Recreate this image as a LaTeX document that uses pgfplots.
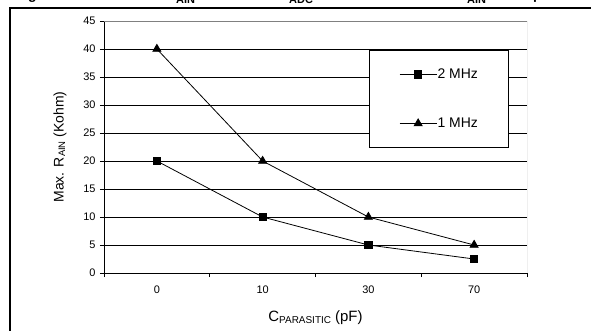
\documentclass[border=0pt]{standalone}
\usepackage{fontspec}
\setmainfont{Liberation Sans}
\usepackage{pgfplots}
\pgfplotsset{compat=1.18}
\begin{document}
\begin{tikzpicture}
\useasboundingbox (0bp,0bp) rectangle (591bp,-331bp);
\begin{scope}
\clip (0bp,0bp) rectangle (591bp,-331bp);
% cut-off caption remnants at the very top
\node[anchor=base west, inner sep=0, font=\bfseries\fontsize{14}{16}\selectfont] at (28bp,1bp) {g};
\node[anchor=base west, inner sep=0, font=\bfseries\fontsize{11}{13}\selectfont] at (176bp,-3.5bp) {AIN};
\node[anchor=base west, inner sep=0, font=\bfseries\fontsize{11}{13}\selectfont] at (289bp,-3.5bp) {ADC};
\node[anchor=base west, inner sep=0, font=\bfseries\fontsize{11}{13}\selectfont] at (467bp,-3.5bp) {AIN};
\node[anchor=base west, inner sep=0, font=\bfseries\fontsize{14}{16}\selectfont] at (533bp,1bp) {p};
% outer frame
\draw[black, line width=2bp] (10bp,-340bp) -- (10bp,-8bp) -- (600bp,-8bp);
\end{scope}
\begin{axis}[
  at={(104bp,-273bp)}, anchor=south west,
  width=423bp, height=252bp, scale only axis,
  xmin=-0.5, xmax=3.5, ymin=0, ymax=45,
  xtick={0,1,2,3}, xticklabels={0,10,30,70},
  minor xtick={-0.5,0.5,1.5,2.5,3.5},
  ytick={0,5,...,45},
  axis x line*=bottom, axis y line*=left,
  x axis line style={-, black, line width=0.8bp},
  y axis line style={-, black, line width=0.8bp},
  tick align=outside,
  major tick length=4bp, minor tick length=4bp,
  major x tick style={draw=none},
  minor x tick style={black, line width=0.6bp},
  major y tick style={black, line width=0.6bp},
  ymajorgrids,
  major grid style={black, line width=0.5bp},
  tick label style={font=\fontsize{11}{13}\selectfont},
  /pgf/number format/assume math mode=true,
  xticklabel style={yshift=-5bp},
  yticklabel style={xshift=-1bp},
  ylabel={Max. R\raisebox{-1.5bp}{\fontsize{9.5}{11}\selectfont AIN} (Kohm)},
  ylabel style={at={(axis description cs:-0.104,0.5)}, anchor=center, font=\fontsize{14}{16}\selectfont},
  xlabel={C\raisebox{-2bp}{\fontsize{10}{12}\selectfont PARASITIC} (pF)},
  xlabel style={at={(axis description cs:0.5,-0.179)}, anchor=center, font=\fontsize{15}{17}\selectfont},
  legend style={at={(axis description cs:0.6265,0.885)}, anchor=north west,
    draw=black, line width=0.5bp, fill=white,
    inner xsep=30bp, inner ysep=18bp, row sep=37bp,
    font=\fontsize{14}{16}\selectfont,
    nodes={inner sep=0.5bp}},
  legend cell align=left,
  legend image code/.code={\draw[mark repeat=2,mark phase=2,#1] plot coordinates {(0bp,0bp) (18.5bp,0bp) (37bp,0bp)};},
]
\addplot[black, line width=0.8bp, mark=square*, mark size=3.6bp, mark options={solid}]
  coordinates {(0,20) (1,10) (2,5) (3,2.5)};
\addlegendentry{2 MHz}
\addplot[black, line width=0.8bp, mark=triangle*, mark size=4.6bp, mark options={solid}]
  coordinates {(0,40) (1,20) (2,10) (3,5)};
\addlegendentry{1 MHz}
\draw[gray, line width=0.8bp] (rel axis cs:0,1) -- (rel axis cs:1,1) -- (rel axis cs:1,0);
\end{axis}
\end{tikzpicture}
\end{document}
